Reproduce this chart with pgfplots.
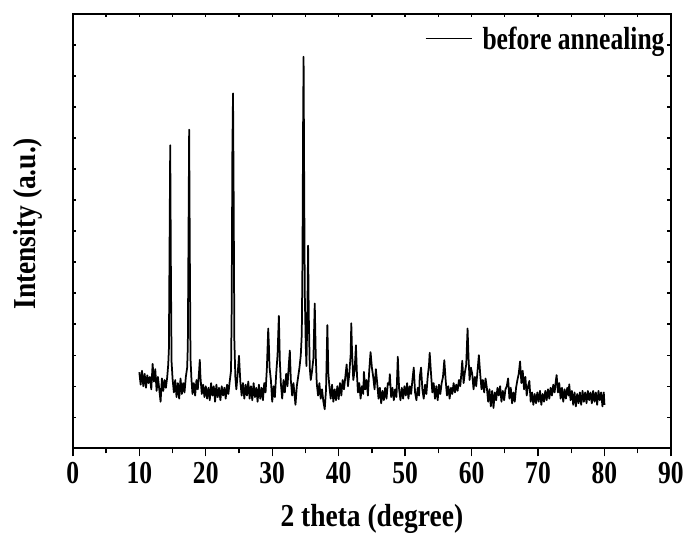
\documentclass[border=0pt]{standalone}
\usepackage{fontspec}
\setmainfont{Liberation Serif}[FakeStretch=0.8]
\newfontfamily\labfont{Liberation Serif}[FakeStretch=0.86]
\usepackage{pgfplots}
\pgfplotsset{compat=1.18}
\usepackage{pgfplotstable}
\pgfplotstableread{
x y
10.0 2.45
10.2 2.05
10.4 2.50
10.6 2.00
10.8 2.40
11.0 1.95
11.2 2.35
11.4 2.10
11.6 2.30
11.8 1.90
12.0 2.72
12.2 2.15
12.4 2.55
12.6 1.85
12.8 2.30
13.0 1.90
13.2 1.50
13.4 2.25
13.6 1.85
13.8 2.20
14.0 1.95
14.2 2.30
14.35 2.70
14.45 3.20
14.55 6.50
14.65 9.77
14.75 5.80
14.85 2.80
15.0 2.25
15.2 1.80
15.4 2.20
15.6 1.65
15.8 2.10
16.0 1.60
16.2 2.25
16.4 1.75
16.6 2.10
16.8 1.80
17.0 2.30
17.2 2.60
17.3 3.30
17.4 6.80
17.5 10.27
17.6 6.20
17.7 2.90
17.85 2.20
18.0 1.75
18.2 2.10
18.4 1.70
18.6 2.20
18.8 1.90
19.0 2.50
19.1 2.85
19.2 2.30
19.4 1.75
19.6 2.05
19.8 1.65
20.0 2.00
20.2 1.60
20.4 1.95
20.6 1.55
20.8 2.10
21.0 1.70
21.2 2.00
21.4 1.50
21.6 2.05
21.8 1.65
22.0 1.95
22.2 1.55
22.4 2.00
22.6 1.70
22.8 1.95
23.0 1.60
23.2 2.05
23.4 1.75
23.6 2.15
23.8 2.50
23.9 4.50
24.0 9.50
24.1 11.44
24.2 8.00
24.3 3.50
24.45 2.30
24.6 1.90
24.8 2.40
25.0 2.98
25.2 2.15
25.4 1.70
25.6 2.10
25.8 1.60
26.0 2.05
26.2 1.70
26.4 2.15
26.6 1.60
26.8 2.00
27.0 1.55
27.2 2.10
27.4 1.65
27.6 1.95
27.8 1.50
28.0 2.05
28.2 1.60
28.4 1.95
28.6 1.55
28.8 2.10
29.0 1.80
29.2 2.60
29.4 3.86
29.5 3.30
29.6 2.60
29.8 2.20
30.0 1.50
30.2 2.00
30.4 1.65
30.6 2.40
30.8 3.00
31.0 4.27
31.15 2.80
31.3 2.10
31.5 1.60
31.7 2.20
31.9 1.80
32.1 2.40
32.3 2.00
32.5 2.70
32.65 3.15
32.8 2.20
33.0 1.70
33.2 2.10
33.5 1.40
33.7 2.00
33.9 2.30
34.1 2.60
34.3 3.00
34.45 3.68
34.55 6.00
34.65 10.50
34.72 12.62
34.8 9.00
34.9 5.00
35.05 3.30
35.15 2.65
35.3 4.50
35.4 6.53
35.5 4.30
35.65 2.60
35.8 2.20
36.0 2.50
36.2 2.90
36.4 4.67
36.55 3.00
36.7 2.10
36.9 1.70
37.1 2.10
37.3 1.60
37.5 1.90
37.7 1.50
37.9 1.26
38.1 1.90
38.3 3.97
38.45 2.40
38.6 2.00
38.8 1.60
39.0 2.05
39.2 1.50
39.4 1.90
39.6 1.55
39.8 2.00
40.0 1.58
40.2 2.10
40.4 1.70
40.6 2.20
40.8 1.90
41.0 2.30
41.2 2.70
41.4 2.00
41.6 2.40
41.8 3.00
41.9 4.03
42.0 3.20
42.2 2.20
42.4 2.50
42.6 3.32
42.75 2.40
42.9 1.80
43.1 2.10
43.3 1.60
43.5 2.00
43.7 1.75
43.8 2.46
44.0 1.90
44.2 2.20
44.4 1.70
44.6 2.50
44.8 3.10
45.0 2.60
45.2 2.30
45.4 1.90
45.6 2.55
45.8 2.10
46.0 1.60
46.2 1.95
46.4 1.45
46.6 1.85
46.8 1.55
47.0 1.95
47.2 1.60
47.4 2.10
47.6 2.05
47.7 2.39
47.9 1.65
48.1 1.95
48.3 1.55
48.5 1.90
48.7 1.65
48.9 2.95
49.1 1.90
49.3 1.55
49.5 1.95
49.7 1.60
49.9 2.00
50.1 1.70
50.3 2.10
50.5 1.60
50.7 2.00
50.9 1.75
51.1 2.20
51.3 2.60
51.5 1.80
51.7 1.55
51.9 1.95
52.1 1.70
52.2 2.30
52.4 2.60
52.6 1.90
52.8 1.60
53.0 2.05
53.2 1.75
53.4 2.30
53.6 2.70
53.7 3.08
53.9 2.40
54.1 1.80
54.3 2.10
54.5 1.60
54.7 2.00
54.9 1.55
55.1 2.05
55.3 1.75
55.5 2.10
55.7 2.30
55.9 2.84
56.1 2.20
56.3 1.70
56.5 2.00
56.7 1.60
56.9 1.95
57.1 1.75
57.3 2.10
57.5 1.80
57.7 2.05
57.9 1.85
58.1 2.20
58.3 2.00
58.5 2.50
58.6 2.82
58.8 2.10
59.0 2.45
59.2 2.70
59.4 3.86
59.55 2.90
59.7 2.20
59.9 2.60
60.1 2.40
60.3 1.90
60.5 2.30
60.7 2.00
60.9 2.50
61.1 3.00
61.3 2.40
61.5 1.90
61.7 2.20
61.9 1.80
62.1 2.25
62.3 1.95
62.5 1.50
62.7 1.90
62.9 1.35
63.1 1.85
63.3 1.30
63.5 1.80
63.7 1.55
63.9 1.95
64.1 1.70
64.3 2.00
64.5 1.50
64.7 1.85
64.9 1.55
65.1 1.90
65.3 2.00
65.5 2.25
65.7 1.60
65.9 1.95
66.1 1.45
66.3 1.80
66.5 1.50
66.7 1.95
66.9 2.20
67.1 2.40
67.3 2.80
67.5 2.10
67.7 2.50
67.9 1.90
68.1 2.30
68.3 1.70
68.5 2.00
68.7 2.17
68.9 1.50
69.1 1.80
69.3 1.40
69.5 1.75
69.7 1.45
69.9 1.80
70.1 1.50
70.3 1.85
70.5 1.40
70.7 1.75
70.9 1.50
71.1 1.85
71.3 1.55
71.5 1.90
71.7 1.60
71.9 1.95
72.1 1.70
72.3 2.05
72.5 1.80
72.7 2.20
72.8 2.36
73.0 1.80
73.2 2.10
73.4 1.60
73.6 1.95
73.8 1.50
74.0 1.90
74.2 1.60
74.4 1.95
74.6 1.70
74.7 2.06
74.9 1.55
75.1 1.85
75.3 1.40
75.5 1.80
75.7 1.35
75.9 1.75
76.1 1.45
76.3 1.80
76.5 1.40
76.7 1.85
76.9 1.50
77.1 1.80
77.3 1.45
77.5 1.85
77.7 1.55
77.9 1.80
78.1 1.45
78.3 1.85
78.5 1.50
78.7 1.80
78.9 1.40
79.1 1.85
79.3 1.55
79.5 1.80
79.7 1.35
79.9 1.80
80.0 1.40
}\xrd

\begin{document}
\begin{tikzpicture}
\begin{axis}[name=main,
  width=599pt, height=435pt, scale only axis,
  xmin=0, xmax=90, ymin=0, ymax=14,
  xtick={0,10,...,90}, minor x tick num=1, xtick pos=left,
  ytick=\empty,
  tick align=outside, major tick length=8pt, minor tick length=5pt,
  axis line style={line width=1.8pt},
  every tick/.style={black, line width=1.4pt},
  /pgf/number format/assume math mode=true,
  xticklabel style={font=\bfseries\fontsize{32}{36}\selectfont, yshift=-2pt},
  every axis x label/.style={at={(axis description cs:0.5,-0.18)}, anchor=base,
    font=\labfont\bfseries\fontsize{32}{38}\selectfont},
  every axis y label/.style={at={(axis description cs:-0.0618,0.517)}, rotate=90, anchor=base,
    font=\labfont\bfseries\fontsize{32}{38}\selectfont},
  xlabel={2 theta (degree)},
  ylabel={Intensity (a.u.)},
  legend style={draw=none, fill=none, at={(axis description cs:0.993,0.976)}, anchor=north east,
    font=\bfseries\fontsize{32}{36}\selectfont, inner sep=0pt},
  legend image code/.code={\draw[#1] (0pt,0pt) -- (46pt,0pt); \path (54pt,0pt);},
]
\addplot[black, line width=1.75pt, line join=round] table {\xrd};
\addlegendentry{before annealing}
\end{axis}
\begin{axis}[
  width=599pt, height=435pt, scale only axis,
  xmin=0, xmax=90, ymin=0, ymax=14,
  xtick={0,5,...,90}, xtick pos=right, xticklabels={},
  ytick={1,...,13}, ytick pos=both, yticklabels={},
  tick align=inside, major tick length=3.5pt,
  axis line style={line width=1.8pt},
  every tick/.style={black, line width=1.4pt},
]
\end{axis}
\path ([xshift=-73pt,yshift=-87pt]main.south west) rectangle ([xshift=15pt,yshift=14pt]main.north east);
\end{tikzpicture}
\end{document}
